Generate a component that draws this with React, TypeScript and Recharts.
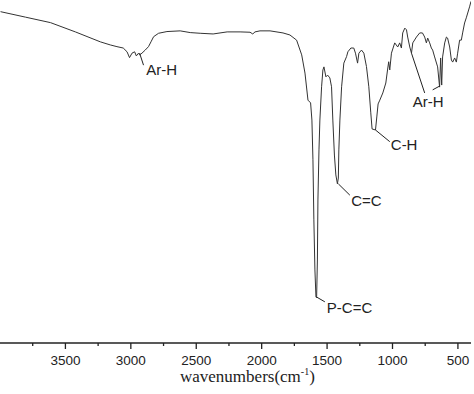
import React from 'react';
import { LineChart, Line, XAxis, YAxis, ReferenceLine, ReferenceDot } from 'recharts';

// wavenumbers (cm-1)
const wavenumbers = [
  3996, 3805, 3614, 3424, 3233, 3157, 3106, 3058, 3029, 3010, 2991, 2971, 2958, 2941, 2933, 2915,
  2890, 2865, 2846, 2826, 2788, 2724, 2623, 2546, 2470, 2371, 2264, 2165, 2089, 2068, 2051, 2013,
  1936, 1837, 1784, 1733, 1694, 1669, 1646, 1626, 1616, 1608, 1601, 1593, 1585, 1580, 1574, 1570,
  1562, 1555, 1542, 1532, 1524, 1509, 1496, 1479, 1466, 1456, 1444, 1433, 1421, 1414, 1410, 1402,
  1389, 1372, 1351, 1341, 1318, 1296, 1283, 1267, 1257, 1237, 1219, 1199, 1181, 1166, 1156, 1130,
  1120, 1110, 1097, 1074, 1051, 1038, 1029, 1021, 1008, 983, 960, 945, 932, 922, 906, 893,
  884, 868, 855, 845, 817, 792, 771, 754, 741, 731, 716, 703, 693, 678, 655, 640,
  632, 624, 617, 601, 588, 579, 563, 550, 540, 525, 512, 502, 487, 474, 464, 449,
  436, 411, 400,
];

// transmittance (%)
const transmittance = [
  96.6, 95.0, 93.4, 90.7, 87.8, 86.9, 86.4, 86.0, 84.9, 83.2, 84.5, 84.9, 83.7, 84.5, 84.0, 84.5,
  85.4, 86.4, 87.8, 89.3, 90.3, 90.8, 91.0, 90.5, 90.3, 90.1, 90.7, 90.7, 90.6, 90.1, 90.7, 91.0,
  91.0, 90.4, 89.8, 88.3, 84.0, 78.7, 70.8, 70.0, 65.0, 53.4, 35.9, 21.3, 13.4, 13.2, 24.2, 41.7,
  56.3, 65.0, 74.7, 79.6, 80.5, 77.6, 78.1, 77.3, 74.7, 65.0, 54.8, 49.0, 46.4, 48.1, 56.3, 65.0,
  74.7, 81.6, 83.5, 84.9, 86.0, 86.0, 84.5, 81.6, 84.5, 85.4, 84.5, 80.6, 74.7, 67.1, 62.4, 62.1,
  65.9, 69.7, 70.8, 72.9, 75.8, 79.6, 82.0, 79.6, 84.5, 87.5, 86.3, 87.5, 86.0, 90.4, 91.8, 91.3,
  89.2, 86.3, 84.5, 87.5, 89.2, 90.4, 90.4, 89.2, 87.5, 88.9, 87.5, 86.0, 85.4, 83.4, 80.5, 74.6,
  83.1, 75.2, 83.4, 87.5, 89.2, 88.9, 86.3, 82.5, 81.9, 83.1, 81.9, 84.5, 88.3, 88.3, 90.4, 93.3,
  94.8, 98.0, 99.6,
];

const majorTicks = [3500, 3000, 2500, 2000, 1500, 1000, 500];
const minorTicks = [3750, 3250, 2750, 2250, 1750, 1250, 750];

// annotation labels: text, label anchor (wavenumber, T)
const annotationLabels = ['Ar-H', 'C=C', 'C-H', 'P-C=C', 'Ar-H'];
const labelX = [2882, 1315, 1013, 1502, 845];
const labelY = [78.1, 39.9, 56.3, 8.7, 68.8];

// leader lines: [x1, y1, x2, y2]
const leaderX1 = [2933, 1414, 1130, 1580, 855, 640];
const leaderY1 = [84.5, 46.4, 62.1, 13.4, 84.5, 74.9];
const leaderX2 = [2903, 1326, 1021, 1517, 754, 693];
const leaderY2 = [81.0, 43.1, 58.7, 12.0, 72.9, 73.8];

const data = wavenumbers.map((w, i) => ({ w, t: transmittance[i] }));
const allTicks = [...majorTicks, ...minorTicks].sort((a, b) => b - a);

const AxisTick = (props: any) => {
  const { x, y, payload } = props;
  const major = majorTicks.includes(payload.value);
  return (
    <g>
      <line x1={x} x2={x} y1={y} y2={y + (major ? 6 : 3)} stroke="#222" strokeWidth={1.3} />
      {major && (
        <text x={x} y={y + 22} textAnchor="middle" fontFamily="'Liberation Sans', Arial, sans-serif" fontSize={13.5} fill="#222">
          {payload.value}
        </text>
      )}
    </g>
  );
};

const AxisTitle = (props: any) => {
  const vb = props.viewBox || { x: 0, y: 343, width: 471 };
  return (
    <text x={180} y={vb.y + 39} fontFamily="'Liberation Serif', 'Times New Roman', serif" fontSize={17} fill="#222">
      wavenumbers(cm
      <tspan fontSize={10} dy={-7}>-1</tspan>
      <tspan dy={7}>)</tspan>
    </text>
  );
};

export default function App() {
  return (
    <div style={{ position: 'absolute', left: 0, top: 0, width: 474, height: 394, background: '#fff' }}>
      <LineChart width={474} height={394} data={data} margin={{ top: 0, right: 3, bottom: 0, left: 0 }}>
        <XAxis
          dataKey="w"
          type="number"
          domain={[400, 4000]}
          reversed
          ticks={allTicks}
          interval={0}
          tickLine={false}
          tickSize={0}
          tickMargin={0}
          tick={<AxisTick />}
          axisLine={{ stroke: '#222', strokeWidth: 1.5 }}
          height={51}
          allowDataOverflow
          label={<AxisTitle />}
        />
        <YAxis hide domain={[0, 100]} type="number" />
        <Line
          type="linear"
          dataKey="t"
          stroke="#333"
          strokeWidth={1}
          dot={false}
          activeDot={false}
          isAnimationActive={false}
        />
        {leaderX1.map((x1, i) => (
          <ReferenceLine
            key={'l' + i}
            segment={[{ x: x1, y: leaderY1[i] }, { x: leaderX2[i], y: leaderY2[i] }]}
            stroke="#222"
            strokeWidth={1}
            ifOverflow="visible"
          />
        ))}
        {annotationLabels.map((txt, i) => (
          <ReferenceDot
            key={'t' + i}
            x={labelX[i]}
            y={labelY[i]}
            r={0}
            ifOverflow="visible"
            shape={(p: any) => (
              <text x={p.cx} y={p.cy} fontFamily="'Liberation Sans', Arial, sans-serif" fontSize={15} fill="#222">
                {txt}
              </text>
            )}
          />
        ))}
      </LineChart>
    </div>
  );
}
